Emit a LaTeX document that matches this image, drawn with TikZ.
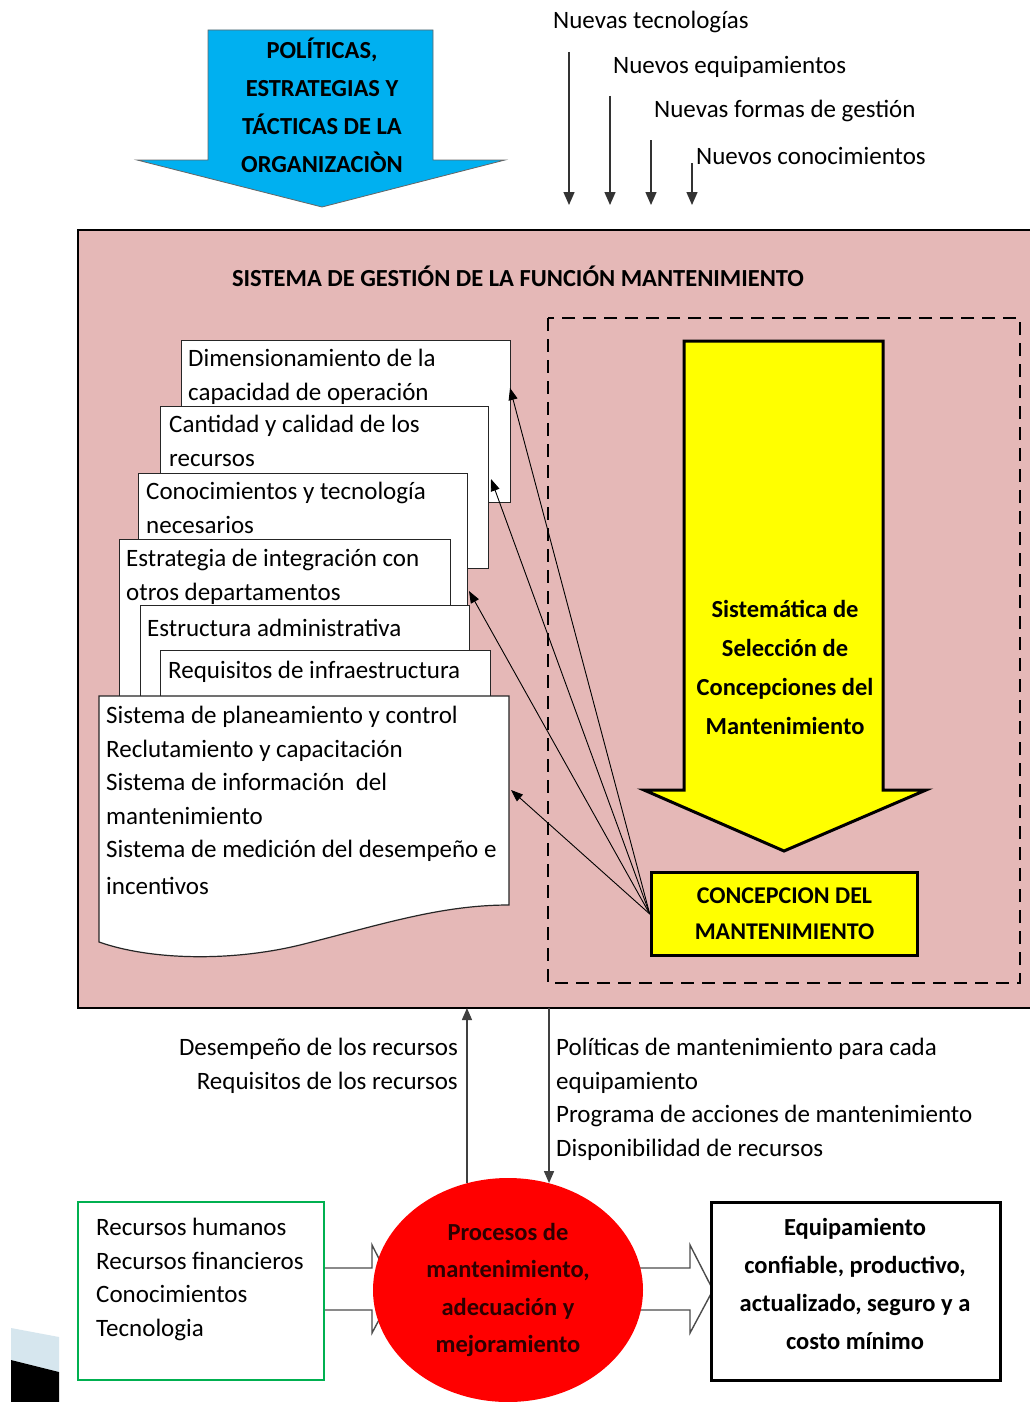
\documentclass[tikz,border=0pt]{standalone}
\usepackage{fontspec}
\setmainfont{Carlito}
\usetikzlibrary{arrows.meta,shapes.geometric}
\definecolor{pinkbg}{RGB}{229,184,183}
\definecolor{bluearrow}{RGB}{0,176,240}
\definecolor{greenbd}{RGB}{0,176,80}
\definecolor{procred}{RGB}{255,0,0}
\definecolor{proctext}{RGB}{45,0,0}
\definecolor{lightbl}{RGB}{214,230,238}
\definecolor{yfill}{RGB}{255,255,0}
\begin{document}
\begin{tikzpicture}[x=1pt,y=-1pt,
  txt/.style={inner sep=0pt, font=\fontsize{25}{33.5}\selectfont},
  btxt/.style={inner sep=0pt, font=\fontsize{24.5}{38}\selectfont\bfseries, align=center},
  docbox/.style={draw=black!85, fill=white, line width=1.2pt, inner sep=0pt, anchor=north west},
  thinarr/.style={draw=black, line width=0.9pt, -{Triangle[width=9pt,length=12pt]}},
  toparr/.style={draw=black!80, line width=1.4pt, -{Triangle[width=11pt,length=13pt]}},
  vertarr/.style={draw=black!75, line width=1.4pt, -{Triangle[width=10pt,length=12pt]}},
  hollow/.style={draw=black!70, fill=white, line width=1.4pt},
  dashbox/.style={draw=black, line width=2.8pt, dash pattern=on 13pt off 8pt},
]
\useasboundingbox (0,0) rectangle (1030,1402);
\fill[white] (0,0) rectangle (1030,1402);

% blue arrow
\path[fill=bluearrow, draw=black!60, line width=0.8pt] (208,30) -- (433,30) -- (433,160) -- (505,160) -- (322,207) -- (137,160) -- (208,160) -- cycle;
\node[btxt, anchor=north] (pol) at (322,38) {POLÍTICAS,\\ESTRATEGIAS Y\\TÁCTICAS DE LA\\ORGANIZACIÒN};

% top labels and arrows
\node[txt, anchor=west] (nt) at (553,22) {Nuevas tecnologías};
\node[txt, anchor=west] (ne) at (613,67) {Nuevos equipamientos};
\node[txt, anchor=west] (nf) at (654,111) {Nuevas formas de gestión};
\node[txt, anchor=west] (nc) at (696,156) {Nuevos conocimientos};
\coordinate (a1s) at (569,52);  \coordinate (a1e) at (569,205);
\coordinate (a2s) at (610,96);  \coordinate (a2e) at (610,205);
\coordinate (a3s) at (651,140); \coordinate (a3e) at (651,205);
\coordinate (a4s) at (692,163); \coordinate (a4e) at (692,205);
\draw[toparr] (a1s) -- (a1e);
\draw[toparr] (a2s) -- (a2e);
\draw[toparr] (a3s) -- (a3e);
\draw[toparr] (a4s) -- (a4e);

% main pink system box
\fill[pinkbg] (78,230) rectangle (1030,1008);
\draw[line width=1.3pt] (1030,230) -- (78,230) -- (78,1008) -- (1030,1008);
\node[btxt, anchor=center] (title) at (518,276) {SISTEMA DE GESTIÓN DE LA FUNCIÓN MANTENIMIENTO};

% dashed box
\draw[dashbox] (548,318) rectangle (1020,983);

% yellow arrow
\path[fill=yfill, draw=black, line width=3pt] (684,341) -- (883,341) -- (883,790) -- (926,790) -- (784,851) -- (644,790) -- (684,790) -- cycle;
\node[btxt, anchor=north, font=\fontsize{24.5}{39}\selectfont\bfseries] (sist) at (785,600) {Sistemática de\\Selección de\\Concepciones del\\Mantenimiento};

% concepcion box
\node[draw, line width=3.5pt, fill=yfill, minimum width=266, minimum height=83, btxt, font=\fontsize{24}{36}\selectfont\bfseries] (conc) at (784.5,914) {CONCEPCION DEL\\MANTENIMIENTO};

% stacked documents
\node[docbox, minimum width=329, minimum height=162] (b1) at (181,340) {};
\node[txt, anchor=north west, align=left] (t1) at (188,349) {Dimensionamiento de la\\capacidad de operación};
\node[docbox, minimum width=328, minimum height=162] (b2) at (160,406) {};
\node[txt, anchor=north west, align=left] (t2) at (169,415) {Cantidad y calidad de los\\recursos};
\node[docbox, minimum width=329, minimum height=132] (b3) at (138,473) {};
\node[txt, anchor=north west, align=left] (t3) at (146,482) {Conocimientos y tecnología\\necesarios};
\node[docbox, minimum width=331, minimum height=157] (b4) at (119,539) {};
\node[txt, anchor=north west, align=left] (t4) at (126,549) {Estrategia de integración con\\otros departamentos};
\node[docbox, minimum width=329, minimum height=91] (b5) at (140,605) {};
\node[txt, anchor=west] (t5) at (147,628) {Estructura administrativa};
\node[docbox, minimum width=330, minimum height=46] (b6) at (160,650) {};
\node[txt, anchor=west] (t6) at (168,672) {Requisitos de infraestructura};
\path[draw=black!85, fill=white, line width=1.2pt] (99,696) -- (509,696) -- (509,905) .. controls (440,905) and (380,925) .. (300,945) .. controls (230,962) and (150,960) .. (99,942) -- cycle;
\node[txt, anchor=north west, align=left] (t7) at (106,706) {Sistema de planeamiento y control\\Reclutamiento y capacitación\\Sistema de información\ \ del\\mantenimiento\\Sistema de medición del desempeño e\\[3pt]incentivos};

% connectors from concepcion
\coordinate (c1) at (510,388);
\coordinate (c2) at (491,479);
\coordinate (c3) at (469,591);
\coordinate (c4) at (511,790);
\draw[thinarr] (conc.west) -- (c1);
\draw[thinarr] (conc.west) -- (c2);
\draw[thinarr] (conc.west) -- (c3);
\draw[thinarr] (conc.west) -- (c4);

% bottom part
\coordinate (sysb) at (0,1008);
\path[hollow] (324,1268) -- (372,1268) -- (372,1245) -- (395,1290) -- (372,1333) -- (372,1310) -- (324,1310);
\path[hollow] (625,1268) -- (690,1268) -- (690,1245) -- (713,1290) -- (690,1333) -- (690,1310) -- (625,1310);
\node[ellipse, fill=procred, minimum width=270, minimum height=224, inner sep=0pt, align=center, text=proctext, font=\fontsize{24.5}{37.5}\selectfont\bfseries] (proc) at (508,1290) {Procesos de\\mantenimiento,\\adecuación y\\mejoramiento};
\draw[vertarr] (proc.111) -- (proc.111 |- sysb);
\draw[vertarr] (proc.69.5 |- sysb) -- (proc.69.5);

\node[txt, anchor=north east, align=right] (dl) at (458,1038) {Desempeño de los recursos\\Requisitos de los recursos};
\node[txt, anchor=north west, align=left] (pl) at (556,1038) {Políticas de mantenimiento para cada\\equipamiento\\Programa de acciones de mantenimiento\\Disponibilidad de recursos};

\node[draw=greenbd, line width=2pt, fill=white, minimum width=246, minimum height=178, inner sep=0pt] (rec) at (201,1291) {};
\node[txt, anchor=north west, align=left] (rect) at (96,1218) {Recursos humanos\\Recursos financieros\\Conocimientos\\Tecnologia};

\node[draw, line width=3pt, fill=white, minimum width=289, minimum height=178, inner sep=0pt] (eq) at (855.5,1291) {};
\node[btxt] (eqt) at (855,1284) {Equipamiento\\confiable, productivo,\\actualizado, seguro y a\\costo mínimo};

% corner decoration
\fill[lightbl] (11,1328) -- (59,1337) -- (59,1372) -- (11,1360) -- cycle;
\fill[black] (11,1360) -- (59,1372) -- (59,1402) -- (11,1402) -- cycle;
\end{tikzpicture}
\end{document}
